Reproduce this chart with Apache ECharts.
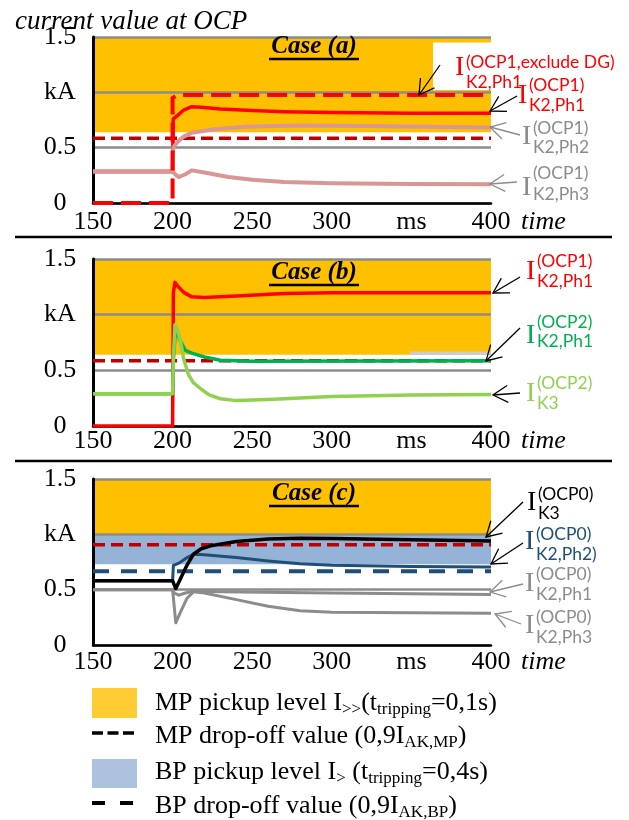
<!DOCTYPE html>
<html><head><meta charset="utf-8">
<script src="https://cdn.jsdelivr.net/npm/echarts@6/dist/echarts.min.js"></script>
<style>html,body{margin:0;padding:0;background:#fff}#c{width:629px;height:820px}</style>
</head><body><div id="c"></div>
<script>
// ---------- axis definitions ----------
const xMin = 150, xMax = 400, xStep = 50;   // tick 350 is written as "ms"
const yMin = 0, yMax = 1.5, yStep = 0.5;    // tick 1 is written as "kA"

// ---------- Case (a) ----------
const aExclDG = [[150,0],[200,0],[200,0.95],[203,0.975],[400,0.975]];
const aPh1 = [[150,0.285],[200,0.285],[200.4,0.76],[203,0.79],[207,0.84],[212,0.87],[218,0.865],[230,0.85],[250,0.835],[270,0.825],[300,0.818],[350,0.812],[400,0.81]];
const aPh2 = [[150,0.285],[200,0.285],[200.4,0.5],[203,0.55],[207,0.6],[212,0.635],[225,0.665],[245,0.69],[280,0.7],[320,0.695],[360,0.688],[400,0.682]];
const aPh3 = [[150,0.285],[200,0.285],[202,0.255],[204,0.235],[208,0.26],[212,0.295],[220,0.275],[235,0.235],[250,0.21],[270,0.19],[300,0.178],[350,0.172],[400,0.17]];
const aDropMP = 0.585;
const aPickMP = [0.64, 1.5];
const aNotch = [363.6, 400, 1.02, 1.45];

// ---------- Case (b) ----------
const bPh1 = [[150,0],[200,0],[200.5,1.2],[201.5,1.29],[203,1.26],[207,1.2],[212,1.16],[220,1.155],[240,1.168],[270,1.19],[300,1.196],[400,1.197]];
const bOCP2 = [[150,0.29],[200,0.29],[200.5,0.6],[201.5,0.8],[202.5,0.85],[205,0.76],[208,0.68],[212,0.655],[220,0.62],[230,0.59],[250,0.582],[400,0.585]];
const bK3 = [[150,0.29],[200,0.29],[200.5,0.6],[201.5,0.91],[203,0.87],[205,0.76],[207,0.6],[210,0.46],[213,0.39],[218,0.33],[223,0.28],[230,0.245],[240,0.228],[260,0.238],[300,0.265],[350,0.278],[400,0.283]];
const bDropMP = 0.585;
const bPickMP = [0.64, 1.5];
const bStrip = [349, 400, 0.64, 0.67];

// ---------- Case (c) ----------
const cK3 = [[150,0.58],[200,0.58],[202,0.51],[205,0.6],[209,0.72],[213,0.82],[218,0.87],[225,0.9],[240,0.935],[260,0.958],[280,0.965],[300,0.962],[350,0.95],[400,0.94]];
const cPh2 = [[150,0.58],[200,0.58],[200.5,0.72],[204,0.74],[208,0.78],[213,0.82],[220,0.815],[240,0.79],[260,0.76],[280,0.735],[300,0.72],[350,0.71],[400,0.705]];
const cPh1 = [[150,0.5],[200,0.5],[201,0.47],[204,0.45],[208,0.47],[213,0.487],[230,0.482],[300,0.47],[400,0.457]];
const cPh3 = [[150,0.5],[200,0.5],[201,0.35],[202,0.2],[205,0.3],[209,0.42],[213,0.48],[220,0.47],[240,0.41],[260,0.35],[280,0.31],[300,0.295],[400,0.288]];
const cDropMP = 0.905;
const cDropBP = 0.667;
const cPickMP = [1.0, 1.5];
const cPickBP = [0.73, 0.995];

// ---------- styling ----------
const SERIF = '"Liberation Serif", "Times New Roman", serif';
const SANS = 'Lato, "Open Sans", sans-serif';
const C_ORANGE = '#FFC000', C_BLUEAREA = '#95B3D7';
const C_RED = '#FF0000', C_DRED = '#C00000', C_PINK = '#D99694';
const C_GREEN = '#00B050', C_LGREEN = '#92D050', C_BLUE = '#1F4E79', C_GRAY = '#8C8C8C';

const grids = [
  {left:93, top:37, width:398, height:166},
  {left:93, top:259, width:398, height:167},
  {left:93, top:479, width:398, height:166}
];
const labelMargins = [6, 2, 4];

const xAxes = grids.map((g,i) => ({
  gridIndex:i, type:'value', min:xMin, max:xMax, interval:xStep, z:1.6,
  axisLine:{show:true, lineStyle:{color:'#000', width:2.5}},
  axisTick:{show:false}, splitLine:{show:false},
  axisLabel:{fontFamily:SERIF, fontSize:26, color:'#000', margin:labelMargins[i],
    formatter: v => v === 350 ? 'ms' : String(v)},
  name:'time', nameLocation:'end', nameGap:30,
  nameTextStyle:{fontFamily:SERIF, fontStyle:'italic', fontSize:26, color:'#000',
    verticalAlign:'top', padding:[labelMargins[i],0,0,0]}
}));
const yAxes = grids.map((g,i) => ({
  gridIndex:i, type:'value', min:yMin, max:yMax, interval:yStep, z:1.5,
  axisLine:{show:true, onZero:false, lineStyle:{color:'#000', width:3}},
  axisTick:{show:false},
  splitLine:{show:true, lineStyle:{color:C_GRAY, width:2.5}},
  axisLabel:{fontFamily:SERIF, fontSize:26, color:'#000', align:'center', margin:33,
    formatter: v => v === 1 ? 'kA' : String(v)}
}));

function line(data, gi, color, width, dash, extra) {
  return Object.assign({
    type:'line', xAxisIndex:gi, yAxisIndex:gi, data:data, showSymbol:false, symbol:'none',
    silent:true, animation:false, clip:true,
    lineStyle:{color:color, width:width, type: dash || 'solid', cap:'butt', join:'round'}
  }, extra || {});
}
function hline(v) { return [[xMin, v],[xMax, v]]; }
function area(x0, x1, y0, y1, color) {
  return [{coord:[x0, y0], itemStyle:{color:color, opacity:1}}, {coord:[x1, y1]}];
}

const series = [
  // Case (a)
  line(hline(aDropMP), 0, C_DRED, 3.5, [12,6], {markArea:{silent:true, z:1, itemStyle:{opacity:1}, data:[
    area(xMin, xMax, aPickMP[0], aPickMP[1], C_ORANGE),
    area(aNotch[0], aNotch[1], aNotch[2], aNotch[3], '#FFFFFF')
  ]}}),
  line(aPh1, 0, C_RED, 3.5),
  line(aPh2, 0, C_PINK, 4),
  line(aPh3, 0, C_PINK, 4),
  line(aExclDG, 0, C_RED, 4, [20,8]),
  // Case (b)
  line(hline(bDropMP), 1, C_DRED, 3.5, [12,6], {markArea:{silent:true, z:1, data:[
    area(xMin, xMax, bPickMP[0], bPickMP[1], C_ORANGE),
    area(bStrip[0], bStrip[1], bStrip[2], bStrip[3], '#C9CDD3')
  ]}}),
  line(bPh1, 1, C_RED, 3.5),
  line(bOCP2, 1, C_GREEN, 3.5),
  line(bK3, 1, C_LGREEN, 3.5),
  // Case (c)
  line(hline(cDropBP), 2, C_BLUE, 4, [16,12], {markArea:{silent:true, z:1, data:[
    area(xMin, xMax, cPickMP[0], cPickMP[1], C_ORANGE),
    area(xMin, xMax, cPickBP[0], cPickBP[1], C_BLUEAREA)
  ]}}),
  line(cPh1, 2, C_GRAY, 3),
  line(cPh3, 2, C_GRAY, 3),
  line(hline(cDropMP), 2, C_DRED, 3.5, [12,6]),
  line(cPh2, 2, C_BLUE, 3),
  line(cK3, 2, '#000', 3.5)
];

// ---------- annotations (text + arrows) ----------
const G = [];
function txt(x, y, text, font, color, align) {
  G.push({type:'text', x:x, y:y, z:20, silent:true,
    style:{text:text, font:font, fill:color, align:align||'left', verticalAlign:'middle',
      textAlign:align||'left', textVerticalAlign:'middle'}});
}
function ann(x, yI, ySup, ySub, sup, sub, color) {
  txt(x, yI, 'I', '28px ' + SERIF, color);
  txt(x + 11, ySup, sup, '17.5px ' + SANS, color);
  txt(x + 11, ySub, sub, '17.5px ' + SANS, color);
}
function arrow(x1, y1, x2, y2, color) {
  const a = Math.atan2(y1 - y2, x1 - x2), L = 17, d = Math.PI / 6;
  const h1 = [x2 + L*Math.cos(a+d), y2 + L*Math.sin(a+d)];
  const h2 = [x2 + L*Math.cos(a-d), y2 + L*Math.sin(a-d)];
  G.push({type:'polyline', z:20, silent:true, shape:{points:[[x1,y1],[x2,y2]]}, style:{stroke:color, lineWidth:1.3, fill:null}});
  G.push({type:'polyline', z:20, silent:true, shape:{points:[h1,[x2,y2],h2]}, style:{stroke:color, lineWidth:1.3, fill:null}});
}
function caseLabel(text, cy) {
  txt(314, cy, text, 'italic bold 25px ' + SERIF, '#000', 'center');
  G.push({type:'line', z:20, silent:true, shape:{x1:269, y1:cy+12, x2:359, y2:cy+12}, style:{stroke:'#000', lineWidth:2.5}});
}

// title
txt(15, 22, 'current value at OCP', 'italic 27px ' + SERIF, '#000');
// separators
G.push({type:'line', z:20, silent:true, shape:{x1:15, y1:237, x2:612, y2:237}, style:{stroke:'#000', lineWidth:2.5}});
G.push({type:'line', z:20, silent:true, shape:{x1:15, y1:461, x2:612, y2:461}, style:{stroke:'#000', lineWidth:2.5}});

// case (a)
caseLabel('Case (a)', 47);
ann(455, 68, 62, 82, '(OCP1,exclude DG)', 'K2,Ph1', C_RED);
ann(518, 96, 85, 105, '(OCP1)', 'K2,Ph1', C_RED);
ann(522, 137, 128, 147, '(OCP1)', 'K2,Ph2', C_GRAY);
ann(522, 188, 173, 194, '(OCP1)', 'K2,Ph3', C_GRAY);
arrow(440, 65, 419, 95, '#000');
arrow(517, 96, 490, 111, '#000');
arrow(520, 135, 490, 127, C_GRAY);
arrow(517, 182, 490, 184, C_GRAY);

// case (b)
caseLabel('Case (b)', 273);
ann(526, 272, 261, 281, '(OCP1)', 'K2,Ph1', C_RED);
ann(526, 336, 322, 341, '(OCP2)', 'K2,Ph1', C_GREEN);
ann(526, 394, 383, 403, '(OCP2)', 'K3', C_LGREEN);
arrow(520, 277, 493, 293, '#000');
arrow(520, 328, 486, 361, '#000');
arrow(520, 393, 493, 395, '#000');

// case (c)
caseLabel('Case (c)', 494);
ann(527, 503, 494, 513, '(OCP0)', 'K3', '#000');
ann(525, 542, 534, 554, '(OCP0)', 'K2,Ph2)', C_BLUE);
ann(525, 584, 574, 594, '(OCP0)', 'K2,Ph1', C_GRAY);
ann(525, 626, 617, 637, '(OCP0)', 'K2,Ph3', C_GRAY);
arrow(523, 502, 486, 537, '#000');
arrow(523, 543, 491, 564, '#000');
arrow(523, 584, 490, 592, C_GRAY);
arrow(521, 624, 495, 614, C_GRAY);

// ---------- legend ----------
const rich = {
  m:{fontFamily:SERIF, fontSize:26, lineHeight:30, fill:'#000', verticalAlign:'middle'},
  s:{fontFamily:SERIF, fontSize:17, lineHeight:12, fill:'#000', verticalAlign:'bottom'}
};
function legText(y, text) {
  G.push({type:'text', x:155, y:y, z:20, silent:true,
    style:{text:text, rich:rich, fill:'#000', align:'left', verticalAlign:'middle',
      textAlign:'left', textVerticalAlign:'middle'}});
}
G.push({type:'rect', z:20, silent:true, shape:{x:92, y:688, width:45, height:30}, style:{fill:'#FFCC33'}});
legText(703, '{m|MP pickup level I}{s|>>}{m|(t}{s|tripping}{m|=0,1s)}');
G.push({type:'line', z:20, silent:true, shape:{x1:92, y1:733, x2:134, y2:733}, style:{stroke:'#000', lineWidth:3.5, lineDash:[11,4.5]}});
legText(736, '{m|MP drop-off value (0,9I}{s|AK,MP}{m|)}');
G.push({type:'rect', z:20, silent:true, shape:{x:92, y:759, width:45, height:29}, style:{fill:'#ADC2DE'}});
legText(772, '{m|BP pickup level I}{s|>}{m| (t}{s|tripping}{m|=0,4s)}');
G.push({type:'line', z:20, silent:true, shape:{x1:92, y1:803, x2:134, y2:803}, style:{stroke:'#000', lineWidth:4, lineDash:[13,15]}});
legText(806, '{m|BP drop-off value (0,9I}{s|AK,BP}{m|)}');

const chart = echarts.init(document.getElementById('c'), null, {renderer:'canvas'});
chart.setOption({
  animation:false,
  backgroundColor:'#fff',
  grid: grids,
  xAxis: xAxes,
  yAxis: yAxes,
  series: series,
  graphic: G
});
</script>
</body></html>
